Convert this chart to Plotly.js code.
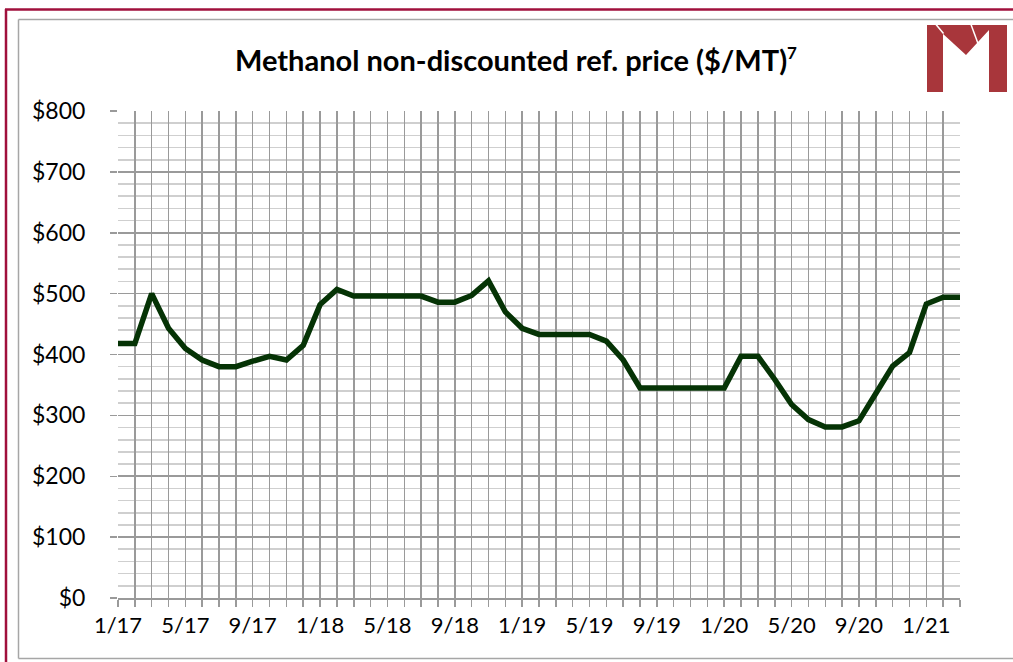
<!DOCTYPE html>
<html>
<head>
<meta charset="utf-8">
<script src="https://cdn.plot.ly/plotly-3.0.1.min.js"></script>
<style>html,body{margin:0;padding:0;background:#fff;}#chart{width:1013px;height:662px;}</style>
</head>
<body>
<div id="chart"></div>
<script>
// ---- data ----
var months = ['1/17','2/17','3/17','4/17','5/17','6/17','7/17','8/17','9/17','10/17','11/17','12/17',
              '1/18','2/18','3/18','4/18','5/18','6/18','7/18','8/18','9/18','10/18','11/18','12/18',
              '1/19','2/19','3/19','4/19','5/19','6/19','7/19','8/19','9/19','10/19','11/19','12/19',
              '1/20','2/20','3/20','4/20','5/20','6/20','7/20','8/20','9/20','10/20','11/20','12/20',
              '1/21','2/21','3/21'];
var prices = [418,418,500,443,410,391,380,380,389,397,391,415,
              482,507,496,496,496,496,496,486,486,497,521,470,
              443,433,433,433,433,422,391,345,345,345,345,345,
              345,397,397,359,318,293,281,281,291,336,381,403,
              483,494,494];
var labeledTicks = ['1/17','5/17','9/17','1/18','5/18','9/18','1/19','5/19','9/19','1/20','5/20','9/20','1/21'];
var yTickVals = [0,100,200,300,400,500,600,700,800];
var yTickText = ['$0','$100','$200','$300','$400','$500','$600','$700','$800'];

// ---- layout helpers (pixel -> paper) ----
var L = 118, R = 960, T = 111, B = 598, W = 1013, H = 662;
function px(x){ return (x - L) / (R - L); }
function py(y){ return (B - y) / (B - T); }

var xTickText = months.map(function(m){ return labeledTicks.indexOf(m) >= 0 ? m : ''; });

var maroon = '#a0103c';
var logoRed = '#a8363b';
var shapes = [
  // outer maroon frame
  {type:'line', xref:'paper', yref:'paper', x0:px(6), x1:px(6), y0:py(9), y1:py(662), line:{color:maroon, width:2.5}},
  {type:'line', xref:'paper', yref:'paper', x0:px(5), x1:px(1013), y0:py(9.5), y1:py(9.5), line:{color:maroon, width:2.5}},
  // inner gray frame
  {type:'line', xref:'paper', yref:'paper', x0:px(18.5), x1:px(18.5), y0:py(19.5), y1:py(658.5), line:{color:'#a6a6a6', width:1.5}},
  {type:'line', xref:'paper', yref:'paper', x0:px(18.5), x1:px(1013), y0:py(19.5), y1:py(19.5), line:{color:'#a6a6a6', width:1.5}},
  {type:'line', xref:'paper', yref:'paper', x0:px(18.5), x1:px(1013), y0:py(658.5), y1:py(658.5), line:{color:'#a6a6a6', width:1.5}},
  // logo: bars
  {type:'rect', xref:'paper', yref:'paper', x0:px(927), x1:px(943), y0:py(25), y1:py(92), fillcolor:logoRed, line:{width:0}},
  {type:'rect', xref:'paper', yref:'paper', x0:px(989), x1:px(1007), y0:py(25), y1:py(92), fillcolor:logoRed, line:{width:0}},
  // logo: V
  {type:'path', xref:'paper', yref:'paper',
   path:'M'+px(938)+','+py(25)+' L'+px(1007)+','+py(25)+' L'+px(1007)+','+py(30)+' L'+px(989)+','+py(30)+
        ' L'+px(966)+','+py(55)+' L'+px(942)+','+py(33)+' Z',
   fillcolor:logoRed, line:{width:0}},
  // logo gaps
  {type:'line', xref:'paper', yref:'paper', x0:px(936), x1:px(943.5), y0:py(24.5), y1:py(33.5), line:{color:'#ffffff', width:1.5}},
  {type:'line', xref:'paper', yref:'paper', x0:px(971), x1:px(978), y0:py(24.5), y1:py(43.5), line:{color:'#ffffff', width:1.5}}
];

var trace = {
  x: months, y: prices, type:'scatter', mode:'lines',
  line:{color:'#053305', width:5.5}, hoverinfo:'skip'
};

var layout = {
  width: W, height: H,
  margin:{l:L, r:W-R, t:T, b:H-B, pad:0},
  paper_bgcolor:'#ffffff', plot_bgcolor:'#ffffff',
  showlegend:false,
  title:{text:'<b>Methanol non-discounted ref. price ($/MT)<sup><span style="font-size:17px">7</span></sup></b>',
         font:{family:'Lato, Noto Sans, sans-serif', size:29, color:'#000'},
         xref:'container', x:516/W, xanchor:'center',
         yref:'container', y:1 - 61/H, yanchor:'middle'},
  xaxis:{
    type:'category', range:[0, months.length-1],
    tickmode:'array', tickvals: months, ticktext: xTickText,
    showgrid:true, gridcolor:'#9a9a9a', gridwidth:1.5,
    ticks:'outside', ticklen:7, tickcolor:'#9a9a9a', tickwidth:1.5,
    showline:true, linecolor:'#9a9a9a', linewidth:1.5,
    tickfont:{family:'Lato, Noto Sans, sans-serif', size:22, color:'#000'},
    tickangle:0, fixedrange:true, zeroline:false
  },
  yaxis:{
    range:[0,800], tickmode:'array', tickvals:yTickVals, ticktext:yTickText,
    showgrid:true, gridcolor:'#9a9a9a', gridwidth:1.6,
    minor:{dtick:20, showgrid:true, gridcolor:'#cfcfcf', gridwidth:1.6},
    ticks:'outside', ticklen:7, tickcolor:'#9a9a9a', tickwidth:1.5,
    ticklabelstandoff:20,
    tickfont:{family:'Lato, Noto Sans, sans-serif', size:23, color:'#000'},
    zeroline:false, showline:false, fixedrange:true
  },
  shapes: shapes
};

Plotly.newPlot('chart', [trace], layout, {staticPlot:true, displayModeBar:false});
</script>
</body>
</html>
